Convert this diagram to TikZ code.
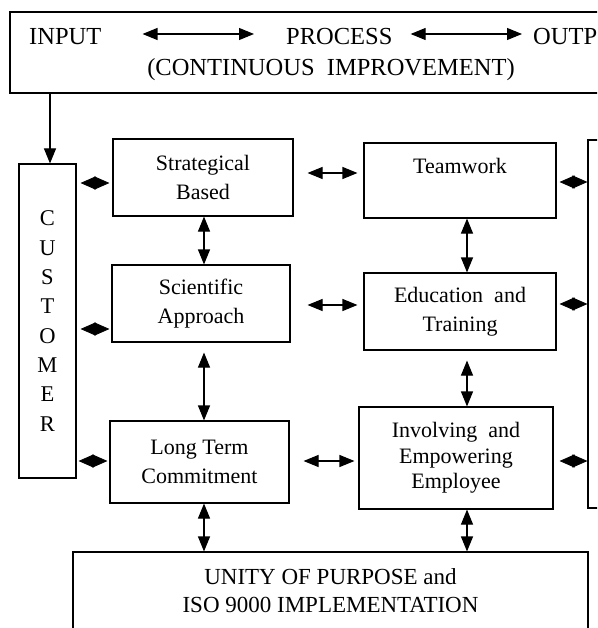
\documentclass[tikz,border=0pt]{standalone}
\usepackage{fontspec}
\setmainfont{Liberation Serif}
\usetikzlibrary{arrows.meta}
\begin{document}
\begin{tikzpicture}[x=1pt,y=-1pt,
  box/.style={draw,line width=1.1pt,rectangle,inner sep=0pt,align=center,font=\fontsize{22}{29}\selectfont},
  txt/.style={inner sep=0pt,font=\fontsize{24.5}{29}\selectfont},
  dbl/.style={line width=1.1pt,{Triangle[length=15pt,width=12pt]}-{Triangle[length=15pt,width=12pt]}},
  dia/.style={line width=0.8pt,{Triangle[length=15pt,width=13pt]}-{Triangle[length=15pt,width=13pt]}},
  arr/.style={line width=1.1pt,-{Triangle[length=15pt,width=12pt]}}
]
\useasboundingbox (0,0) rectangle (597,628);
\clip (0,0) rectangle (597,628);
\fill[white] (0,0) rectangle (597,628);
% top box
\node[box,minimum width=690pt,minimum height=81pt] (top) at (355,52.5) {};
\node[txt,anchor=base west] (inp) at (29,45) {INPUT};
\node[txt,anchor=base west] (proc) at (286,45) {PROCESS};
\node[txt,anchor=base west] (outp) at (533,45) {OUTP};
\node[txt,anchor=base] (cont) at (331,76) {(CONTINUOUS\ \ IMPROVEMENT)};
\draw[dbl,shorten <=41pt,shorten >=32pt] (inp.east |- 0,34) -- (proc.west |- 0,34);
\draw[dbl,shorten <=18pt,shorten >=11pt] (proc.east |- 0,34) -- (outp.west |- 0,34);
% customer
\node[box,minimum width=57pt,minimum height=314pt,font=\fontsize{22.5}{29.3}\selectfont] (cust) at (47.5,321) {C\\U\\S\\T\\O\\M\\E\\R};
\coordinate (cin) at ([xshift=2.5pt]cust.north);
\draw[arr] (cin |- top.south) -- (cin);
% left column
\node[box,minimum width=180pt,minimum height=77pt] (sb) at (203,177.5) {Strategical\\Based};
\node[box,minimum width=178pt,minimum height=77pt] (sa) at (201,303.5) {Scientific\\Approach};
\node[box,minimum width=179pt,minimum height=82pt] (lt) at (199.5,462) {Long Term\\Commitment};
% right column
\node[box,minimum width=192pt,minimum height=75pt] (tw) at (460,180.5) {Teamwork\\\mbox{}};
\node[box,minimum width=192pt,minimum height=77pt] (edu) at (460,311.5) {Education\ \ and\\Training};
\node[box,minimum width=194pt,minimum height=102pt,font=\fontsize{22}{25.5}\selectfont] (inv) at (456,458) {Involving\ \ and\\Empowering\\Employee};
\node[box,minimum width=72pt,minimum height=368pt] (rbox) at (624,324) {};
% bottom
\node[box,minimum width=515pt,minimum height=78pt,font=\fontsize{23}{28}\selectfont] (unity) at (330.5,591) {UNITY OF PURPOSE and\\ISO 9000 IMPLEMENTATION};
% vertical arrows
\coordinate (lc) at (204,0);
\coordinate (rc) at (467,0);
\draw[dbl] (sb.south -| lc) -- (sa.north -| lc);
\draw[dbl,shorten <=10pt] (sa.south -| lc) -- (lt.north -| lc);
\draw[dbl] (lt.south -| lc) -- (unity.north -| lc);
\draw[dbl] (tw.south -| rc) -- (edu.north -| rc);
\draw[dbl,shorten <=10pt] (edu.south -| rc) -- (inv.north -| rc);
\draw[dbl] (inv.south -| rc) -- (unity.north -| rc);
% horizontal arrows
\draw[dbl,shorten <=14pt,shorten >=6pt] (sb.east |- 0,173) -- (tw.west |- 0,173);
\draw[dbl,shorten <=17pt,shorten >=6pt] (sa.east |- 0,305) -- (edu.west |- 0,305);
\draw[dbl,shorten <=14pt,shorten >=4pt] (lt.east |- 0,461) -- (inv.west |- 0,461);
% diamonds
\draw[dia,shorten <=4pt,shorten >=3pt] (cust.east |- 0,183) -- (sb.west |- 0,183);
\draw[dia,shorten <=4pt,shorten >=2pt] (cust.east |- 0,329) -- (sa.west |- 0,329);
\draw[dia,shorten <=2pt,shorten >=2pt] (cust.east |- 0,461) -- (lt.west |- 0,461);
\draw[dia,shorten <=3pt] (tw.east |- 0,182) -- (rbox.west |- 0,182);
\draw[dia,shorten <=3pt] (edu.east |- 0,304) -- (rbox.west |- 0,304);
\draw[dia,shorten <=6pt] (inv.east |- 0,461) -- (rbox.west |- 0,461);
\end{tikzpicture}
\end{document}
